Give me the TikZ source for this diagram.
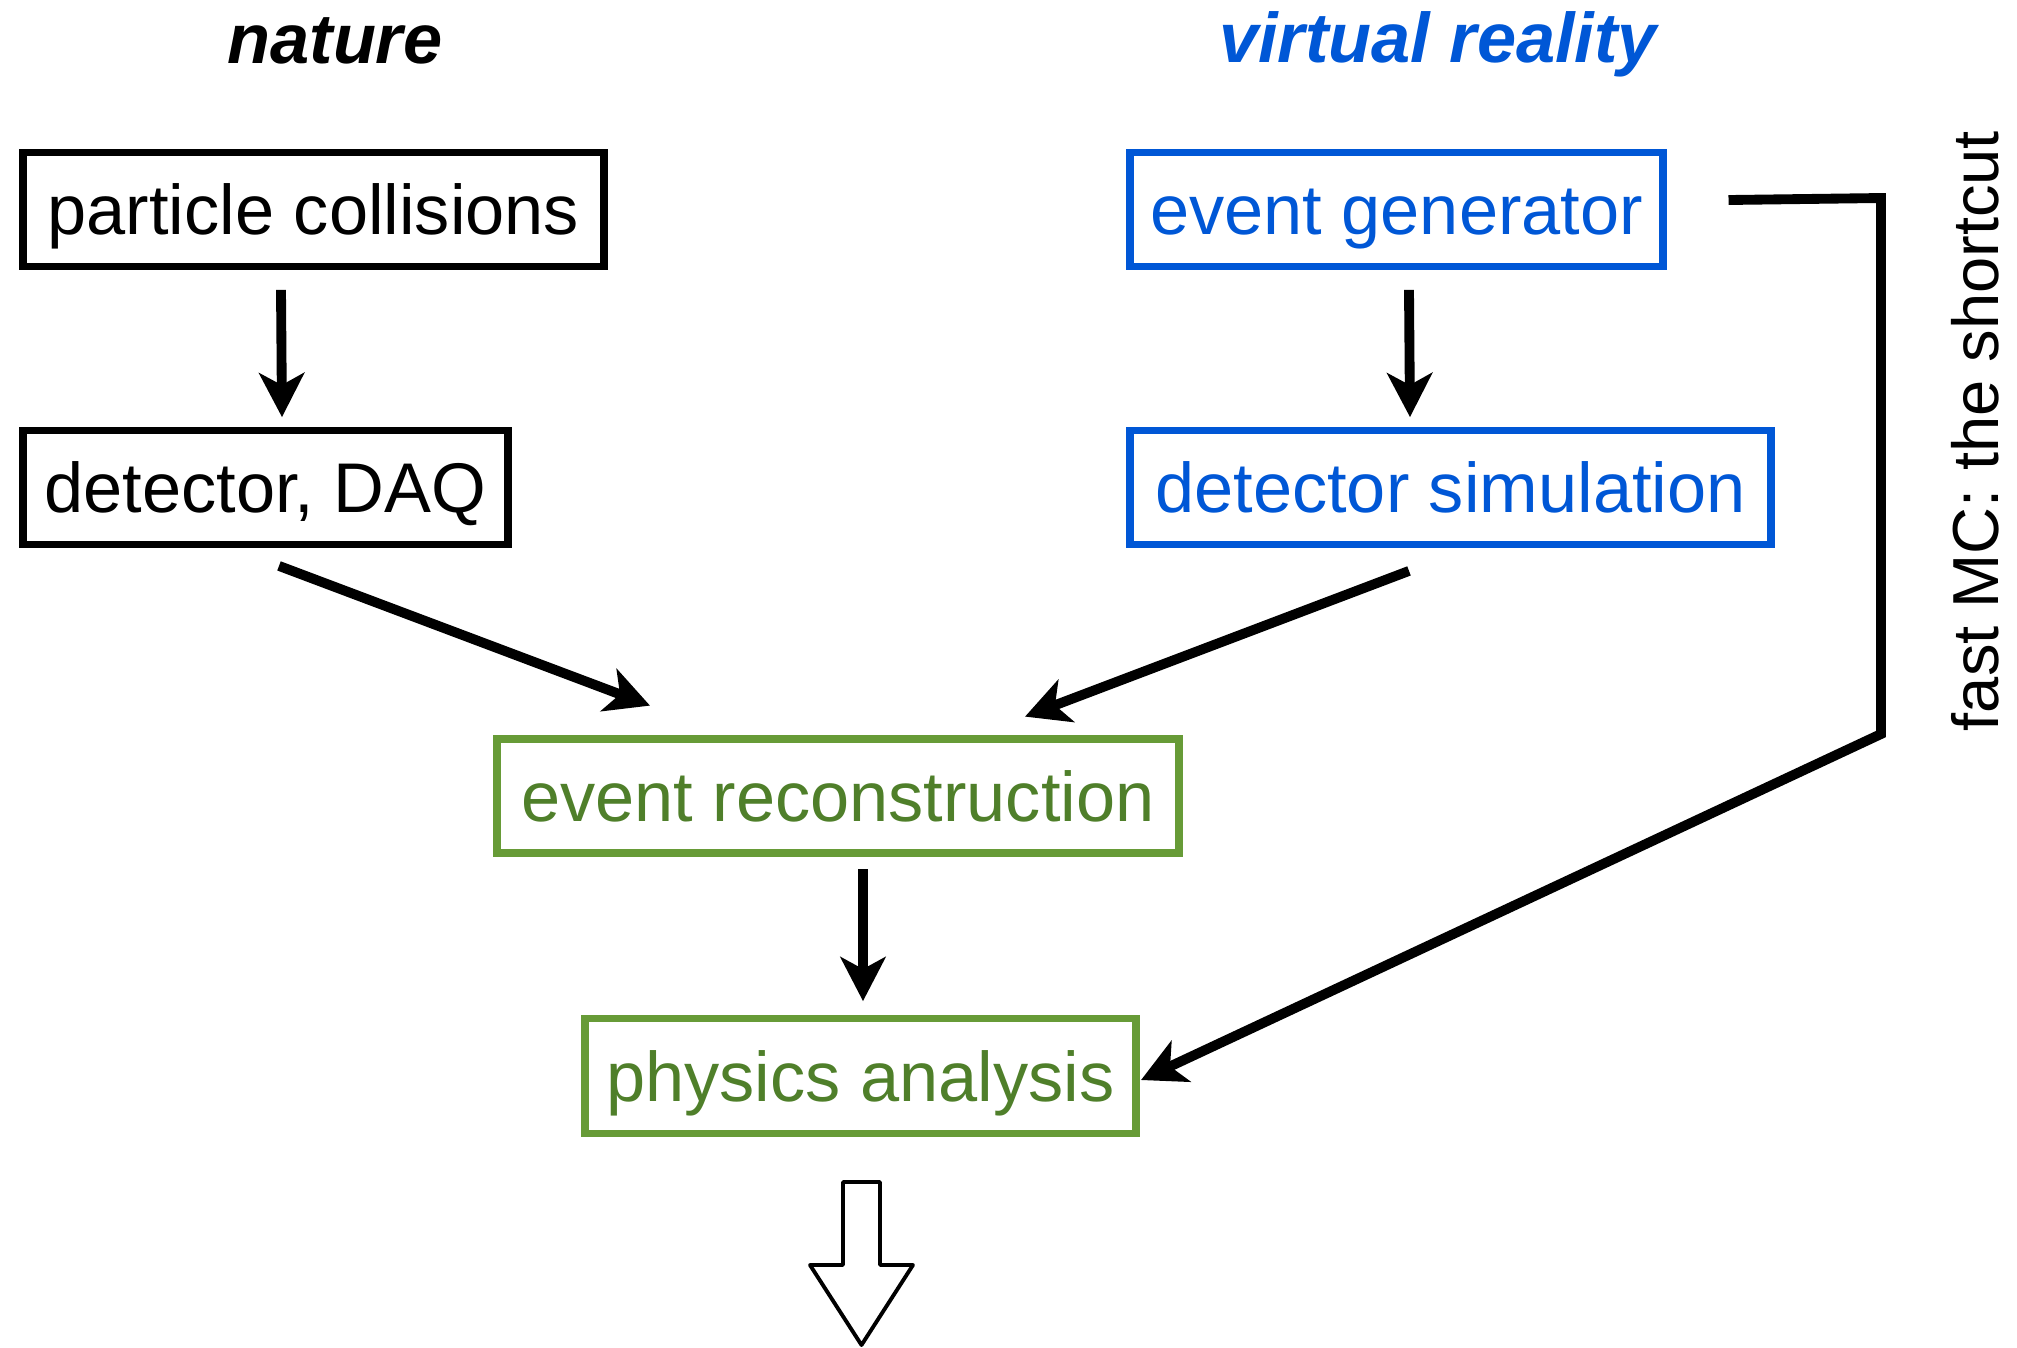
\documentclass[tikz,border=0pt]{standalone}
\usepackage{fontspec}
\setmainfont{Liberation Sans}
\usepackage{xcolor}
\usetikzlibrary{arrows.meta, calc}

\definecolor{vrblue}{HTML}{0057D6}
\definecolor{recogreen}{HTML}{679B37}
\definecolor{recotext}{HTML}{4F7F2A}

\tikzset{
	box/.style = {draw, line width = 2.2pt, minimum height = 1.14cm, inner sep = 0pt, text height = 0.5cm, text depth = 0cm, font = \fontsize{20}{24}\selectfont},
	naturebox/.style = {box, draw = black, text = black},
	virtualbox/.style = {box, draw = vrblue, text = vrblue},
	recobox/.style = {box, draw = recogreen, text = recotext},
	heading/.style = {anchor = base, font = \fontsize{20}{24}\selectfont\bfseries\itshape},
	flow/.style = {line width = 2.8pt, -{Stealth[length = 0.44cm, width = 0.45cm, inset = 0.12cm]}},
}

\begin{document}
\begin{tikzpicture}[x = 0.01cm, y = -0.01cm]
		\useasboundingbox (0,0) rectangle (2017,1347);
		
		%headings
		\node [heading] (nature) at (335,63) {nature};
		\node [heading, text = vrblue] (virtual) at (1438,62) {virtual reality};
		
		%boxes
		\node [naturebox, minimum width = 5.81cm] (collisions) at (313.5,209.5) {particle collisions};
		\node [naturebox, minimum width = 4.85cm] (daq) at (265.5,487.5) {detector, DAQ};
		
		\node [virtualbox, minimum width = 5.33cm] (generator) at (1396.5,209.5) {event generator};
		\node [virtualbox, minimum width = 6.41cm] (detsim) at (1450.5,487.5) {detector simulation};
		
		\node [recobox, minimum width = 6.82cm] (reco) at (838,796) {event reconstruction};
		\node [recobox, minimum width = 5.51cm, minimum height = 1.15cm] (physics) at (860.5,1076) {physics analysis};
		
		\node [rotate = 90, font = \fontsize{18.5}{22}\selectfont] (fastmc) at (1975,431) {fast MC: the shortcut};
		
		%arrows
		\draw [flow] ($ (collisions.south) + (-32.5,19.5) $) -- ($ (daq.north) + (16.5,-9.5) $);
		\draw [flow] ($ (generator.south) + (12.5,19.5) $) -- ($ (detsim.north) + (-40.5,-9.5) $);
		
		\draw [flow] ($ (daq.south) + (13.5,17.5) $) -- ($ (reco.north) + (-188,-29.5) $);
		\draw [flow] ($ (detsim.south) + (-41.5,22.5) $) -- ($ (reco.north) + (187,-18.5) $);
		
		\draw [flow] ($ (reco.south) + (25,12.5) $) -- ($ (physics.north) + (2.5,-13.5) $);
		
		%shortcut
		\coordinate (shortcut top) at (1881,198);
		\coordinate (shortcut bottom) at (1881,734);
		\draw [flow] ($ (generator.east) + (61.5,-9.5) $) -- (shortcut top) -- (shortcut bottom) -- ($ (physics.east) + (1,4) $);
		
		%result
		\draw [line width = 1.1pt, line join = round] (843,1182) -- (880,1182) -- (880,1265) -- (913,1265) -- (861.5,1345) -- (810,1265) -- (843,1265) -- cycle;
	\end{tikzpicture}
\end{document}
